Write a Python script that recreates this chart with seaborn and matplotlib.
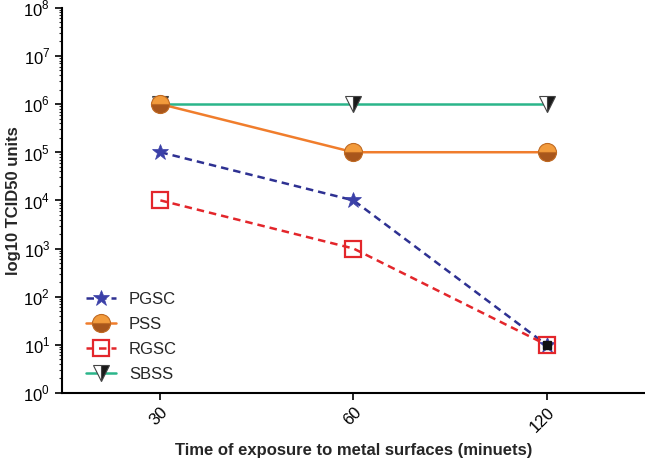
import numpy as np
import pandas as pd
import matplotlib
matplotlib.use('Agg')
import matplotlib.pyplot as plt
import seaborn as sns
from matplotlib.ticker import LogLocator

times = ['30', '60', '120']
pgsc = [1e5, 1e4, 1e1]
pss = [1e6, 1e5, 1e5]
rgsc = [1e4, 1e3, 1e1]
sbss = [1e6, 1e6, 1e6]
ytick_labels = ['10$^{%d}$' % i for i in range(9)]

sns.set_style('ticks')
plt.rcParams['font.family'] = ['Liberation Sans', 'DejaVu Sans']
plt.rcParams['mathtext.fontset'] = 'custom'
plt.rcParams['mathtext.rm'] = 'Liberation Sans'

fig = plt.figure(figsize=(6.45, 4.58), dpi=100)
ax = fig.add_axes([0.096, 0.142, 0.904, 0.841])

df = pd.DataFrame({'time': times * 4,
                   'value': pgsc + pss + rgsc + sbss,
                   'group': ['PGSC'] * 3 + ['PSS'] * 3 + ['RGSC'] * 3 + ['SBSS'] * 3})

# SBSS - green line, half black/white down triangle
sns.lineplot(data=df[df.group == 'SBSS'], x='time', y='value', ax=ax, color='#2bb58a',
             lw=1.8, marker='v', ms=11, mfc='#1a1a1a', markerfacecoloralt='white',
             fillstyle='right', mec='#444444', mew=0.8, label='SBSS')
# PSS - orange line, half filled circle
sns.lineplot(data=df[df.group == 'PSS'], x='time', y='value', ax=ax, color='#f07d2c',
             lw=1.8, marker='o', ms=13, mfc='#a8561c', markerfacecoloralt='#f29b3c',
             fillstyle='bottom', mec='#c06a22', mew=0.8, label='PSS')
# PGSC - dashed navy, star
sns.lineplot(data=df[df.group == 'PGSC'], x='time', y='value', ax=ax, color='#2e3192',
             lw=1.8, ls=(0, (3, 2)), marker='*', ms=12, mfc='#3b40a8', mec='#3b40a8',
             mew=0.5, label='PGSC')
# RGSC - dashed red, open square
sns.lineplot(data=df[df.group == 'RGSC'], x='time', y='value', ax=ax, color='#e3262b',
             lw=1.8, ls=(0, (3, 2)), marker='s', ms=11, mfc='none', mec='#e3262b',
             mew=1.6, label='RGSC')
# dark mark at 120 min
ax.plot([2], [10], marker='s', ms=6, color='#111111', ls='none')

ax.set_yscale('log')
ax.set_ylim(1, 1e8)
ax.set_xlim(-0.51, 2.51)
ax.set_yticks([10 ** i for i in range(9)])
ax.set_yticklabels(ytick_labels)
ax.yaxis.set_minor_locator(LogLocator(base=10, subs=np.arange(2, 10), numticks=20))
ax.tick_params(axis='both', which='major', direction='out', length=5, width=1.2,
               labelsize=12, colors='black')
ax.tick_params(axis='y', which='minor', length=2.5, width=0.8)
for lab in ax.get_xticklabels():
    lab.set_rotation(45)
    lab.set_ha('right')
    lab.set_rotation_mode('anchor')

ax.set_xlabel('Time of exposure to metal surfaces (minuets)', fontsize=12,
              fontweight='bold', labelpad=6)
ax.set_ylabel('log10 TCID50 units', fontsize=12, fontweight='bold', labelpad=2)

for s in ['top', 'right']:
    ax.spines[s].set_visible(False)
for s in ['left', 'bottom']:
    ax.spines[s].set_linewidth(1.5)
    ax.spines[s].set_color('black')

h, l = ax.get_legend_handles_labels()
order = [l.index(n) for n in ['PGSC', 'PSS', 'RGSC', 'SBSS']]
ax.legend([h[i] for i in order], [l[i] for i in order], loc='lower left',
          bbox_to_anchor=(0.015, -0.01), frameon=False, fontsize=12,
          handlelength=1.8, labelspacing=0.6)

fig.savefig('out.png', dpi=100)
